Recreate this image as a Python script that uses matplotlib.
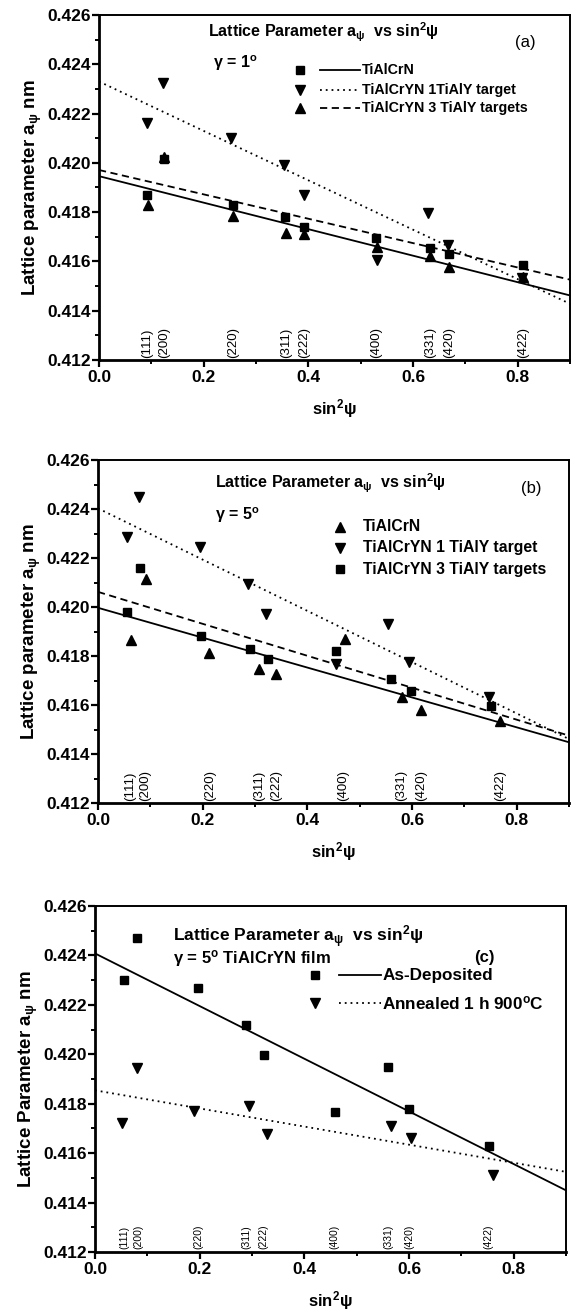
import matplotlib
matplotlib.use("Agg")
import matplotlib.pyplot as plt
from matplotlib.ticker import MultipleLocator, FormatStrFormatter

plt.rcParams['font.family'] = ['Liberation Sans', 'DejaVu Sans']
plt.rcParams['font.weight'] = 'bold'
plt.rcParams['mathtext.fontset'] = 'custom'
plt.rcParams['mathtext.rm'] = 'Liberation Sans:bold'
plt.rcParams['mathtext.it'] = 'Liberation Sans:bold'
plt.rcParams['mathtext.bf'] = 'Liberation Sans:bold'

# ---- data panel (a), gamma = 1 deg ----
a_x_sq = [0.091, 0.124, 0.256, 0.356, 0.392, 0.529, 0.632, 0.669, 0.810]
a_y_sq = [0.41869, 0.42014, 0.41828, 0.41781, 0.41740, 0.41696, 0.41656, 0.41632, 0.41584]
a_x_dn = [0.091, 0.123, 0.253, 0.354, 0.391, 0.531, 0.629, 0.667, 0.808]
a_y_dn = [0.42163, 0.42326, 0.42102, 0.41991, 0.41869, 0.41607, 0.41795, 0.41666, 0.41534]
a_x_up = [0.093, 0.124, 0.256, 0.358, 0.392, 0.531, 0.633, 0.669, 0.810]
a_y_up = [0.41831, 0.42025, 0.41784, 0.41717, 0.41713, 0.41659, 0.41621, 0.41578, 0.41537]
a_fit_x = [0.0, 0.9]
a_fit_solid = [0.41946, 0.41462]
a_fit_dashed = [0.41971, 0.41526]
a_fit_dotted = [0.42330, 0.41428]
a_hkl_x = [0.092, 0.124, 0.256, 0.357, 0.392, 0.530, 0.632, 0.668, 0.810]

# ---- data panel (b), gamma = 5 deg ----
b_x_up = [0.064, 0.092, 0.212, 0.308, 0.341, 0.471, 0.580, 0.617, 0.768]
b_y_up = [0.41865, 0.42115, 0.41814, 0.41746, 0.41725, 0.41868, 0.41631, 0.41579, 0.41536]
b_x_dn = [0.055, 0.079, 0.194, 0.286, 0.321, 0.455, 0.554, 0.594, 0.748]
b_y_dn = [0.42285, 0.42451, 0.42245, 0.42094, 0.41972, 0.41769, 0.41929, 0.41776, 0.41631]
b_x_sq = [0.055, 0.081, 0.196, 0.290, 0.324, 0.454, 0.559, 0.598, 0.750]
b_y_sq = [0.41979, 0.42159, 0.41880, 0.41827, 0.41789, 0.41822, 0.41705, 0.41658, 0.41597]
b_fit_x = [0.0, 0.9]
b_fit_solid = [0.41997, 0.41448]
b_fit_dashed = [0.42062, 0.41475]
b_fit_dotted = [0.42403, 0.41461]
b_hkl_x = [0.062, 0.090, 0.214, 0.308, 0.341, 0.469, 0.579, 0.617, 0.768]

# ---- data panel (c), gamma = 5 deg TiAlCrYN film ----
c_x_sq = [0.056, 0.081, 0.197, 0.289, 0.323, 0.458, 0.559, 0.599, 0.753]
c_y_sq = [0.42300, 0.42470, 0.42270, 0.42120, 0.41995, 0.41768, 0.41950, 0.41777, 0.41628]
c_x_dn = [0.052, 0.081, 0.190, 0.294, 0.328, 0.566, 0.603, 0.760]
c_y_dn = [0.41723, 0.41945, 0.41770, 0.41791, 0.41676, 0.41708, 0.41661, 0.41511]
c_fit_x = [0.0, 0.9]
c_fit_solid = [0.42408, 0.41449]
c_fit_dotted = [0.41854, 0.41524]
c_hkl_x = [0.056, 0.083, 0.198, 0.289, 0.322, 0.457, 0.561, 0.600, 0.751]

hkl = ['(111)', '(200)', '(220)', '(311)', '(222)', '(400)', '(331)', '(420)', '(422)']

fig = plt.figure(figsize=(5.71, 13.13), dpi=100)
ax_a = fig.add_axes([0.1734, 0.7258, 0.825, 0.2628])
ax_b = fig.add_axes([0.1716, 0.3884, 0.825, 0.2612])
ax_c = fig.add_axes([0.1664, 0.0465, 0.825, 0.2635])


def style_axes(ax, ylab, hkl_x, hkl_size):
    ax.set_xlim(0, 0.9)
    ax.set_ylim(0.412, 0.426)
    ax.xaxis.set_major_locator(MultipleLocator(0.2))
    ax.xaxis.set_minor_locator(MultipleLocator(0.1))
    ax.yaxis.set_major_locator(MultipleLocator(0.002))
    ax.yaxis.set_minor_locator(MultipleLocator(0.001))
    ax.xaxis.set_major_formatter(FormatStrFormatter('%.1f'))
    ax.yaxis.set_major_formatter(FormatStrFormatter('%.3f'))
    ax.tick_params(which='major', direction='out', length=5, width=1.6,
                   labelsize=12.5, pad=1)
    ax.tick_params(which='minor', direction='out', length=3, width=1.4)
    ax.tick_params(axis='x', which='major', pad=2)
    for s in ['left', 'bottom']:
        ax.spines[s].set_linewidth(2.0)
    for s in ['top', 'right']:
        ax.spines[s].set_linewidth(1.4)
    for lab in ax.get_xticklabels() + ax.get_yticklabels():
        lab.set_fontweight('bold')
    ax.set_xlabel(r'sin$^2$$\psi$', fontsize=12, fontweight='bold', labelpad=9)
    ax.set_ylabel(ylab, fontsize=13.5, fontweight='bold', labelpad=2)
    for xv, t in zip(hkl_x, hkl):
        ax.text(xv, 0.4121, t, rotation=90, ha='center', va='bottom',
                fontsize=hkl_size, fontweight='normal')


title = r'Lattice Parameter a$_\psi$  vs sin$^2$$\psi$'

# ---------------- panel (a) ----------------
ax_a.plot(a_fit_x, a_fit_solid, color='black', lw=1.3)
ax_a.plot(a_fit_x, a_fit_dotted, color='black', lw=1.3, ls=(0, (1, 2.2)))
ax_a.plot(a_fit_x, a_fit_dashed, color='black', lw=1.3, ls=(0, (4, 2.5)))
ax_a.plot(a_x_sq, a_y_sq, 's', color='black', ms=6)
ax_a.plot(a_x_dn, a_y_dn, 'v', color='black', ms=7.5)
ax_a.plot(a_x_up, a_y_up, '^', color='black', ms=7.5)
style_axes(ax_a, r'Lattice parameter a$_\psi$ nm', a_hkl_x, 9.5)
ax_a.text(0.232, 0.95, title, transform=ax_a.transAxes, fontsize=11.5,
          fontweight='bold', va='center')
ax_a.text(0.905, 0.92, '(a)', transform=ax_a.transAxes, fontsize=12,
          fontweight='normal', va='center', ha='center')
ax_a.text(0.242, 0.861, r'$\gamma$ = 1$^\mathrm{o}$', transform=ax_a.transAxes,
          fontsize=11.5, fontweight='bold', va='center')
leg_a = [('s', '-', 'TiAlCrN', 0.841),
         ('v', (0, (1, 2.2)), 'TiAlCrYN 1TiAlY target', 0.783),
         ('^', (0, (4, 2.5)), 'TiAlCrYN 3 TiAlY targets', 0.730)]
for mk, ls, lab, yy in leg_a:
    ax_a.plot([0.426], [yy], mk, color='black', ms=6 if mk == 's' else 7,
              transform=ax_a.transAxes, clip_on=False)
    ax_a.plot([0.47, 0.555], [yy, yy], color='black', lw=1.3, ls=ls,
              transform=ax_a.transAxes)
    ax_a.text(0.558, yy, lab, transform=ax_a.transAxes, fontsize=10.3,
              fontweight='bold', va='center')

# ---------------- panel (b) ----------------
ax_b.plot(b_fit_x, b_fit_solid, color='black', lw=1.3)
ax_b.plot(b_fit_x, b_fit_dotted, color='black', lw=1.3, ls=(0, (1, 2.2)))
ax_b.plot(b_fit_x, b_fit_dashed, color='black', lw=1.3, ls=(0, (4, 2.5)))
ax_b.plot(b_x_up, b_y_up, '^', color='black', ms=7.5)
ax_b.plot(b_x_dn, b_y_dn, 'v', color='black', ms=7.5)
ax_b.plot(b_x_sq, b_y_sq, 's', color='black', ms=6)
style_axes(ax_b, r'Lattice parameter a$_\psi$ nm', b_hkl_x, 9.5)
ax_b.text(0.249, 0.932, title, transform=ax_b.transAxes, fontsize=11.5,
          fontweight='bold', va='center')
ax_b.text(0.92, 0.918, '(b)', transform=ax_b.transAxes, fontsize=12,
          fontweight='normal', va='center', ha='center')
ax_b.text(0.249, 0.840, r'$\gamma$ = 5$^\mathrm{o}$', transform=ax_b.transAxes,
          fontsize=11.5, fontweight='bold', va='center')
leg_b = [('^', 'TiAlCrN', 0.806),
         ('v', 'TiAlCrYN 1 TiAlY target', 0.745),
         ('s', 'TiAlCrYN 3 TiAlY targets', 0.681)]
for mk, lab, yy in leg_b:
    ax_b.plot([0.513], [yy], mk, color='black', ms=6 if mk == 's' else 7,
              transform=ax_b.transAxes)
    ax_b.text(0.562, yy, lab, transform=ax_b.transAxes, fontsize=11.3,
              fontweight='bold', va='center')

# ---------------- panel (c) ----------------
ax_c.plot(c_fit_x, c_fit_solid, color='black', lw=1.3)
ax_c.plot(c_fit_x, c_fit_dotted, color='black', lw=1.3, ls=(0, (1, 2.2)))
ax_c.plot(c_x_sq, c_y_sq, 's', color='black', ms=6)
ax_c.plot(c_x_dn, c_y_dn, 'v', color='black', ms=7.5)
style_axes(ax_c, r'Lattice Parameter a$_\psi$ nm', c_hkl_x, 7.5)
ax_c.text(0.166, 0.912, title, transform=ax_c.transAxes, fontsize=12.5,
          fontweight='bold', va='center')
ax_c.text(0.827, 0.851, '(c)', transform=ax_c.transAxes, fontsize=12,
          fontweight='bold', va='center', ha='center')
ax_c.text(0.166, 0.847, r'$\gamma$ = 5$^\mathrm{o}$ TiAlCrYN film',
          transform=ax_c.transAxes, fontsize=12, fontweight='bold', va='center')
leg_c = [('s', '-', 'As-Deposited', 0.800),
         ('v', (0, (1, 2.2)), r'Annealed 1 h 900$^\mathrm{o}$C', 0.719)]
for mk, ls, lab, yy in leg_c:
    ax_c.plot([0.468], [yy], mk, color='black', ms=6 if mk == 's' else 7,
              transform=ax_c.transAxes)
    ax_c.plot([0.518, 0.607], [yy, yy], color='black', lw=1.3, ls=ls,
              transform=ax_c.transAxes)
    ax_c.text(0.61, yy, lab, transform=ax_c.transAxes, fontsize=12.3,
              fontweight='bold', va='center')

fig.savefig('out.png', dpi=100)
